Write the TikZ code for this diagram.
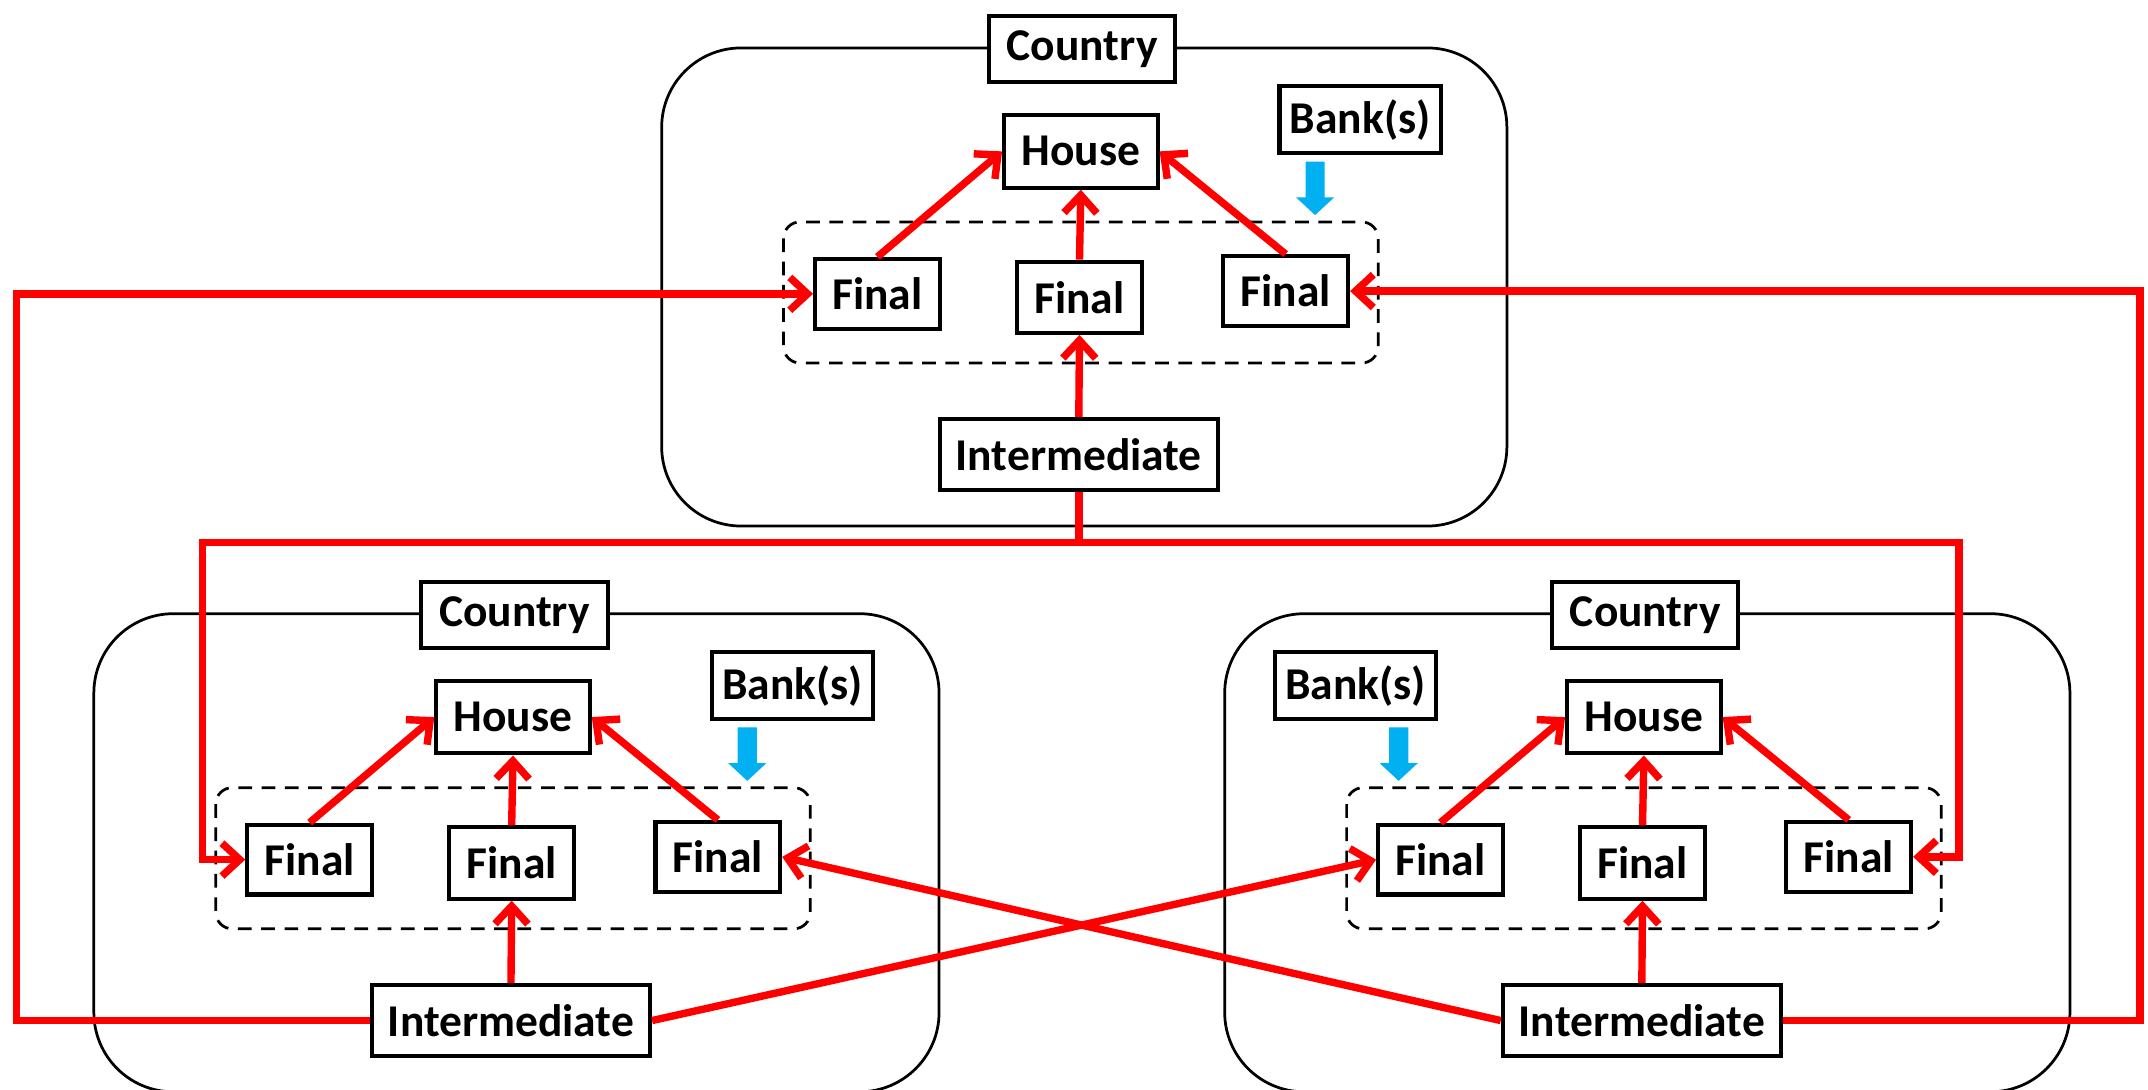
\documentclass[tikz,border=0pt]{standalone}
\usepackage{fontspec}
\setmainfont{Carlito}
\usetikzlibrary{arrows.meta}
\definecolor{rd}{RGB}{255,0,0}
\definecolor{bl}{RGB}{0,176,240}
\tikzset{
  box/.style={draw=black, line width=1.5pt, fill=white, inner sep=0pt,
    font=\fontsize{16.6}{19}\selectfont\bfseries},
  finalbox/.style={box, minimum width=45.5pt, minimum height=25.5pt},
  cbox/.style={draw=black, line width=1pt, rounded corners=29pt},
  dbox/.style={draw=black, line width=1pt, dash pattern=on 5pt off 3.5pt, rounded corners=6pt},
  rline/.style={draw=rd, line width=2.7pt},
  rarrow/.style={rline, -{Straight Barb[length=6.5pt,width=12pt]}},
}
\newcommand\countryunit[5]{%
\begin{scope}[shift={(#2,#3)}]
  \draw[cbox] (483,35) rectangle (1100,384);
  \draw[dbox] (572,162) rectangle (1006,265);
  \node[box, minimum width=68pt, minimum height=24pt] (country#1) at (790,36) {Country};
  \node[box, minimum width=56pt, minimum height=26.5pt] (house#1) at (789,110.5) {House};
  \node[box, minimum width=59pt, minimum height=24.5pt] (bank#1) at (#4,87.5) {Bank(s)};
  \node[finalbox] (finalL#1) at (640.5,214.5) {Final};
  \node[finalbox, minimum height=26pt] (finalM#1) at (788,217) {Final};
  \node[finalbox] (finalR#1) at (938.5,212.5) {Final};
  \node[box, minimum width=101.5pt, minimum height=26pt] (inter#1) at (787.5,332) {Intermediate};
  \fill[bl] (#5-7,118) -- (#5+7,118) -- (#5+7,144) -- (#5+14,144) -- (#5,157)
            -- (#5-14,144) -- (#5-7,144) -- cycle;
  \draw[rarrow] (finalL#1.north) -- (house#1.west);
  \draw[rarrow] (finalM#1.north) -- (house#1.south);
  \draw[rarrow] (finalR#1.north) -- (house#1.east);
  \draw[rarrow] (inter#1.north) -- (finalM#1.south);
\end{scope}}
\begin{document}
\begin{tikzpicture}[x=0.5pt, y=-0.5pt]
\useasboundingbox[fill=white] (0,0) rectangle (1568,795);
\countryunit{1}{0}{0}{993}{960}
\countryunit{2}{-414.5}{413}{993}{960}
\countryunit{3}{411}{413}{578.5}{610}
\coordinate (busy) at (0,396);
\coordinate (lx) at (148,0);
\coordinate (rx) at (1430,0);
\coordinate (farLx) at (12,0);
\coordinate (farRx) at (1562,0);
\coordinate (j) at (inter1.south |- busy);
\draw[rline] (inter1.south) -- (j);
\draw[rarrow] (j) -- (busy -| lx) |- (finalL2.west);
\draw[rarrow] (j) -- (busy -| rx) |- (finalR3.east);
\draw[rarrow] (inter2.west) -- (inter2.west -| farLx) |- (finalL1.west);
\draw[rarrow] (inter3.east) -- (inter3.east -| farRx) |- (finalR1.east);
\draw[rarrow] (inter2.east) -- (finalL3.west);
\draw[rarrow] (inter3.west) -- (finalR2.east);
\end{tikzpicture}
\end{document}
